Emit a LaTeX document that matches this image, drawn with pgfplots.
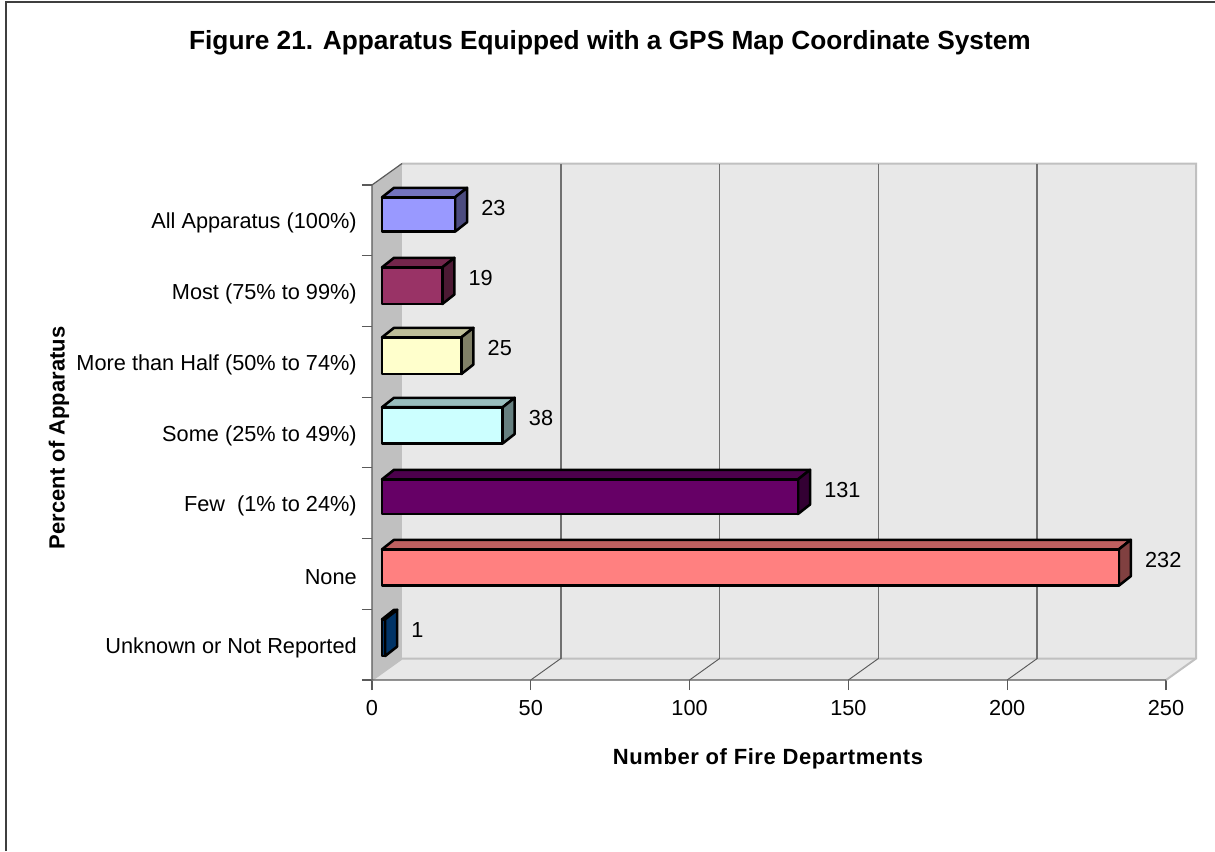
\documentclass[border=0pt]{standalone}
\usepackage{pgfplots}
\pgfplotsset{compat=1.18}
\usepackage{fontspec}
\setmainfont{Liberation Sans}

% depth of the bars, in axis units
\def\bardx{3.78}   % 12 px
\def\bardy{0.134}  % 9.5 px

\tikzset{bargeom/.style={draw=black, line width=1.9pt, line join=round, xshift=7.5pt}}

% #1 value, #2 low edge, #3 high edge, #4 colour, #5 side colour
\newcommand{\threedbar}[5]{%
  \pgfmathsetmacro{\ex}{#1+\bardx}%
  \pgfmathsetmacro{\ey}{#3+\bardy}%
  \pgfmathsetmacro{\el}{#2+\bardy}%
  \addplot[bargeom, fill=#4!75!black] coordinates {(0,#3) (#1,#3) (\ex,\ey) (\bardx,\ey)} --cycle;
  \addplot[bargeom, fill=#5] coordinates {(#1,#2) (\ex,\el) (\ex,\ey) (#1,#3)} --cycle;
  \addplot[bargeom, fill=#4] coordinates {(0,#2) (#1,#2) (#1,#3) (0,#3)} --cycle;
  \edef\barlabel{\noexpand\node[font=\noexpand\fontsize{16.3}{20}\noexpand\selectfont, anchor=west, inner sep=0pt, xshift=18pt, yshift=-15pt] at (axis cs:\ex,\ey) {#1};}%
  \barlabel
}

\definecolor{wallgray}{HTML}{E8E8E8}
\definecolor{sidegray}{HTML}{C0C0C0}
\definecolor{gridgray}{HTML}{707070}
\definecolor{axisgray}{HTML}{5A5A5A}
\definecolor{cA}{HTML}{9999FF}
\definecolor{cB}{HTML}{993366}
\definecolor{cC}{HTML}{FFFFCC}
\definecolor{cD}{HTML}{CCFFFF}
\definecolor{cE}{HTML}{660066}
\definecolor{cF}{HTML}{FF8080}
\definecolor{cG}{HTML}{003366}

\begin{document}
\begin{tikzpicture}
\path[use as bounding box] (0,0) rectangle (911.25pt,638.25pt);
\draw[axisgray!70!black, line width=1.5pt] (4.5pt,0) -- (4.5pt,636.9pt) -- (911.25pt,636.9pt);
\begin{axis}[
  at={(279pt,128.25pt)}, anchor=south west,
  scale only axis, width=595.5pt, height=371.25pt,
  xmin=0, xmax=250, ymin=0, ymax=7,
  clip=false,
  axis line style={draw=none},
  xtick pos=bottom, ytick pos=left,
  xtick={0,50,100,150,200,250},
  ytick={0.5,1.5,2.5,3.5,4.5,5.5,6.5},
  yticklabels={Unknown or Not Reported, None, {Few\ \ (1\% to 24\%)}, Some (25\% to 49\%), More than Half (50\% to 74\%), Most (75\% to 99\%), All Apparatus (100\%)},
  extra y ticks={0,1,2,3,4,5,6,7},
  extra y tick labels={},
  extra y tick style={major tick length=7.5pt, tick style={axisgray, line width=0.9pt}},
  major tick length=0pt,
  extra x ticks={0,50,100,150,200,250},
  extra x tick labels={},
  extra x tick style={major tick length=7.5pt, tick style={axisgray, line width=0.9pt}},
  tick align=outside,
  tick label style={font=\fontsize{16.3}{20}\selectfont},
  /pgf/number format/assume math mode=true,
  yticklabel style={inner sep=0pt, xshift=-11.25pt, yshift=-2.25pt},
  xticklabel style={inner sep=0pt, yshift=-15pt},
  title={Figure 21. Apparatus Equipped with a GPS Map Coordinate System},
  title style={at={(axis description cs:0.2997,1.2708)}, anchor=center, inner sep=0pt, font=\fontsize{19.7}{24}\selectfont\bfseries},
  xlabel={Number of Fire Departments},
  xlabel style={at={(axis description cs:0.4987,-0.160)}, anchor=center, inner sep=0pt, font=\fontsize{16.5}{20}\selectfont\bfseries\addfontfeature{LetterSpace=2.7}},
  ylabel={Percent of Apparatus},
  ylabel style={at={(axis description cs:-0.3942,0.489)}, anchor=center, inner sep=0pt, font=\fontsize{16.5}{20}\selectfont\bfseries},
]
% left wall, floor and back wall
\addplot[draw=none, fill=sidegray] coordinates {(0,0) (9.45,0.304) (9.45,7.304) (0,7)} --cycle;
\addplot[draw=none, fill=wallgray] coordinates {(0,0) (250,0) (259.45,0.304) (9.45,0.304)} --cycle;
\addplot[draw=none, fill=wallgray] coordinates {(9.45,0.304) (259.45,0.304) (259.45,7.304) (9.45,7.304)} --cycle;
% edges of the box
\addplot[draw=sidegray, line width=1.5pt] coordinates {(9.45,7.304) (259.45,7.304) (259.45,0.304) (250,0)};
\addplot[draw=sidegray, line width=1.5pt] coordinates {(0,0) (9.45,0.304) (259.45,0.304)};
% grid lines, on the floor and on the back wall
\addplot[draw=gridgray, line width=1.2pt] coordinates {(59.45,0.304) (59.45,7.304)};
\addplot[draw=gridgray, line width=1.2pt] coordinates {(109.45,0.304) (109.45,7.304)};
\addplot[draw=gridgray, line width=1.2pt] coordinates {(159.45,0.304) (159.45,7.304)};
\addplot[draw=gridgray, line width=1.2pt] coordinates {(209.45,0.304) (209.45,7.304)};
\addplot[draw=axisgray, line width=0.7pt] coordinates {(50,0) (59.45,0.304)};
\addplot[draw=axisgray, line width=0.7pt] coordinates {(100,0) (109.45,0.304)};
\addplot[draw=axisgray, line width=0.7pt] coordinates {(150,0) (159.45,0.304)};
\addplot[draw=axisgray, line width=0.7pt] coordinates {(200,0) (209.45,0.304)};
% axis lines on top of the walls
\addplot[draw=axisgray, line width=0.9pt] coordinates {(9.45,7.304) (0,7) (0,0) (250,0)};
% bars
\threedbar{23}{6.340}{6.826}{cA}{cA!50!black}
\threedbar{19}{5.317}{5.836}{cB}{cB!50!black}
\threedbar{25}{4.327}{4.846}{cC}{cC!50!black}
\threedbar{38}{3.345}{3.857}{cD}{cD!50!black}
\threedbar{131}{2.348}{2.838}{cE}{cE!50!black}
\threedbar{232}{1.334}{1.848}{cF}{cF!50!black}
\threedbar{1}{0.339}{0.858}{cG}{cG}
\end{axis}
\end{tikzpicture}
\end{document}
